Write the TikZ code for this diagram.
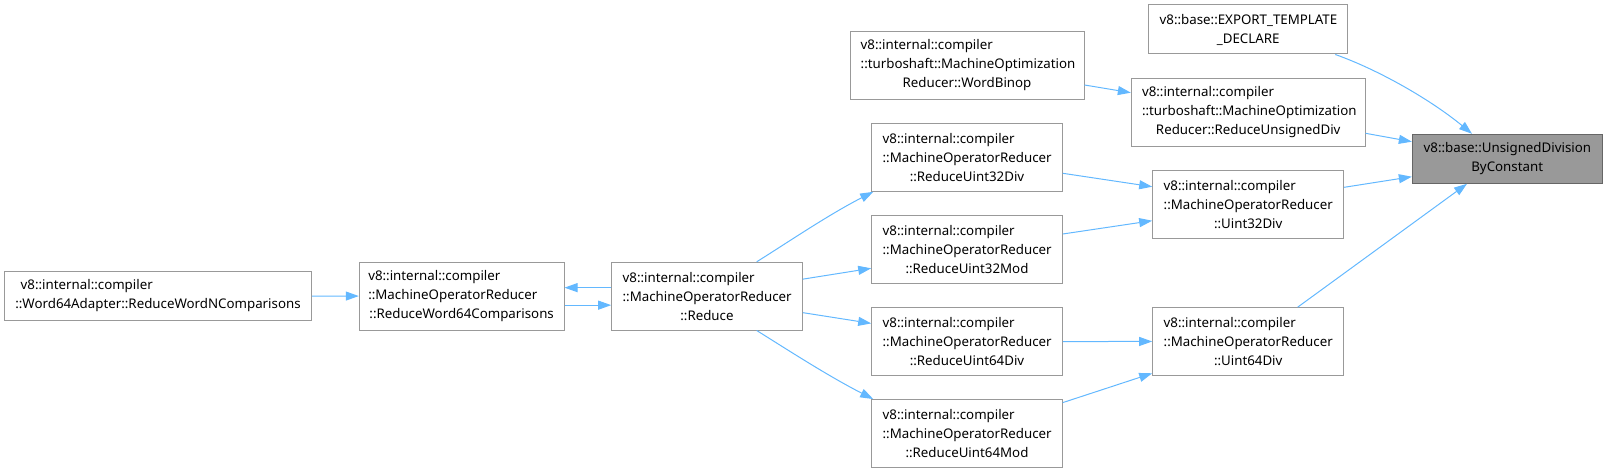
\documentclass[tikz,border=0pt]{standalone}
\usepackage{fontspec}
\setmainfont{Noto Sans}
\usetikzlibrary{arrows.meta}
\definecolor{edgecol}{HTML}{63B8FF}
\definecolor{boxline}{HTML}{999999}
\definecolor{hifill}{HTML}{999999}
\definecolor{hiline}{HTML}{666666}
\newcommand{\ctr}[1]{\makebox[\linewidth][c]{#1}}
\begin{document}
\begin{tikzpicture}[x=1pt,y=-1pt,
  box/.style={draw=boxline, line width=1pt, fill=white, inner sep=0pt, align=left,
    font=\fontsize{13.3}{19}\selectfont, minimum width=190.6pt, minimum height=67.7pt, text width=168.7pt},
  hibox/.style={box, fill=hifill, draw=hiline},
  edge/.style={draw=edgecol, line width=1pt, -{Triangle[length=13pt,width=9pt]}}]
\useasboundingbox (0,0) rectangle (1607,473);

\node[box, minimum width=307.4pt, minimum height=48.3pt, text width=274.6pt] (W64A) at (158,295.9)
  {v8::internal::compiler\\\ctr{::Word64Adapter::ReduceWordNComparisons}};
\node[box, minimum width=204.7pt, text width=186.7pt] (RWC) at (461.65,296.15)
  {v8::internal::compiler\\::MachineOperatorReducer\\\ctr{::ReduceWord64Comparisons}};
\node[box] (Reduce) at (707,296.15)
  {v8::internal::compiler\\::MachineOperatorReducer\\\ctr{::Reduce}};
\node[box] (RU32Div) at (967,157.5)
  {v8::internal::compiler\\::MachineOperatorReducer\\\ctr{::ReduceUint32Div}};
\node[box] (RU32Mod) at (967,249.5)
  {v8::internal::compiler\\::MachineOperatorReducer\\\ctr{::ReduceUint32Mod}};
\node[box] (RU64Div) at (967,341.6)
  {v8::internal::compiler\\::MachineOperatorReducer\\\ctr{::ReduceUint64Div}};
\node[box] (RU64Mod) at (967,433.4)
  {v8::internal::compiler\\::MachineOperatorReducer\\\ctr{::ReduceUint64Mod}};
\node[box, minimum width=234pt, text width=212.6pt] (WordBinop) at (967,65.5)
  {v8::internal::compiler\\::turboshaft::MachineOptimization\\\ctr{Reducer::WordBinop}};
\node[box, minimum width=233.7pt, text width=212.4pt] (RUDiv) at (1248.2,112.3)
  {v8::internal::compiler\\::turboshaft::MachineOptimization\\\ctr{Reducer::ReduceUnsignedDiv}};
\node[box, minimum width=199pt, minimum height=49pt, text width=177pt] (EXPORT) at (1248.2,29.5)
  {v8::base::EXPORT\_TEMPLATE\\\ctr{\_DECLARE}};
\node[box, minimum width=191pt, minimum height=68pt, text width=169pt] (U32Div) at (1248.2,204.3)
  {v8::internal::compiler\\::MachineOperatorReducer\\\ctr{::Uint32Div}};
\node[box, minimum width=191pt, minimum height=67.5pt, text width=169pt] (U64Div) at (1248.2,341.4)
  {v8::internal::compiler\\::MachineOperatorReducer\\\ctr{::Uint64Div}};
\node[hibox, minimum width=189.7pt, minimum height=49pt, text width=167pt] (UDBC) at (1507.2,158.8)
  {v8::base::UnsignedDivision\\\ctr{ByConstant}};

\draw[edge] (W64A) -- (RWC);
\draw[edge] ([yshift=8.5pt]Reduce.west) -- ([yshift=8.5pt]RWC.east);
\draw[edge] ([yshift=-9pt]RWC.east) -- ([yshift=-9pt]Reduce.west);
\draw[edge] ([xshift=49.7pt]Reduce.north) .. controls +(32,-20) and +(-45,23) .. ([xshift=2pt]RU32Div.south west);
\draw[edge] ([yshift=17pt]Reduce.east) -- ([yshift=-18.8pt]RU32Mod.west);
\draw[edge] ([yshift=-16.5pt]Reduce.east) -- ([yshift=18.2pt]RU64Div.west);
\draw[edge] ([xshift=49.7pt]Reduce.south) .. controls +(32,20) and +(-45,-23) .. ([xshift=2pt]RU64Mod.north west);
\draw[edge] ([yshift=-15.8pt]RU32Div.east) -- ([yshift=17.6pt]U32Div.west);
\draw[edge] ([yshift=15.5pt]RU32Mod.east) -- ([yshift=-16.4pt]U32Div.west);
\draw[edge] (RU64Div) -- (U64Div);
\draw[edge] ([yshift=30.8pt]RU64Mod.east) -- ([yshift=-31.9pt]U64Div.west);
\draw[edge] ([yshift=-19.5pt]WordBinop.east) -- ([yshift=19.6pt]RUDiv.west);
\draw[edge] ([yshift=-21pt]RUDiv.east) -- ([yshift=17.1pt]UDBC.west);
\draw[edge] ([yshift=17pt]U32Div.east) -- ([yshift=-17.9pt]UDBC.west);
\draw[edge] ([xshift=87.1pt]EXPORT.south) .. controls +(45,16) and +(-40,-33) .. ([xshift=-35.2pt]UDBC.north);
\draw[edge] ([xshift=49.5pt]U64Div.north) -- ([xshift=-40.2pt]UDBC.south);
\end{tikzpicture}
\end{document}
